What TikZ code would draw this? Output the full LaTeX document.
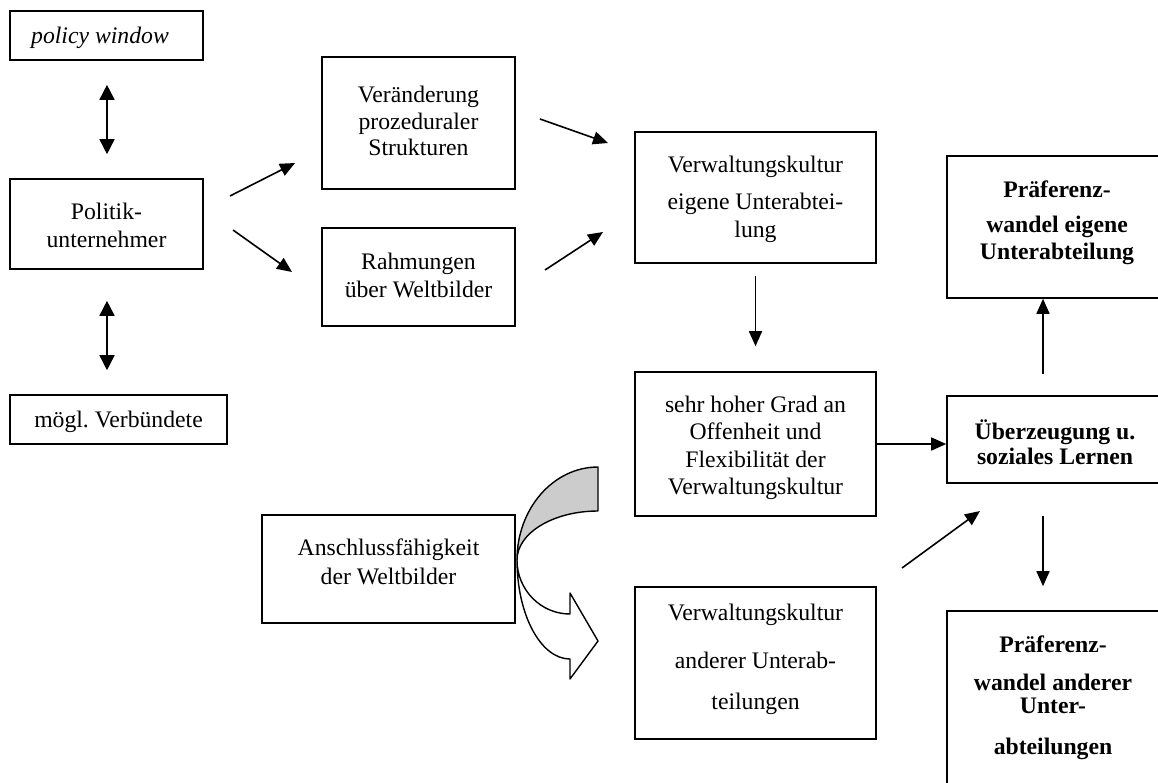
\documentclass[tikz,border=0pt]{standalone}
\usepackage{fontspec}
\setmainfont{Liberation Serif}
\usetikzlibrary{arrows.meta}
\newcommand{\sx}{\strut}
\tikzset{
  box/.style={draw, line width=1.6pt, rectangle, inner sep=0pt},
  txt/.style={inner sep=0pt, align=center, font=\fontsize{23.7}{27}\selectfont},
  btxt/.style={txt, font=\fontsize{23.7}{27}\selectfont\bfseries},
  conn/.style={line width=1.6pt, -{Triangle[length=15pt,width=13pt]}},
  dconn/.style={line width=1.6pt, {Triangle[length=15pt,width=15pt]}-{Triangle[length=15pt,width=15pt]}},
  curvebody/.style={draw, line width=1.4pt, line join=round}
}
\begin{document}
\frenchspacing
\begin{tikzpicture}[x=1pt,y=-1pt]
\useasboundingbox (0,0) rectangle (1158,782);
% boxes
\node[box, minimum width=193pt, minimum height=49pt] (pw) at (106.5,35.5) {};
\node[box, minimum width=193pt, minimum height=90pt] (pol) at (106.5,224) {};
\node[box, minimum width=217pt, minimum height=49pt] (mv) at (118.5,419.5) {};
\node[box, minimum width=193pt, minimum height=132pt] (ver) at (418.5,123) {};
\node[box, minimum width=193pt, minimum height=98pt] (rah) at (418.5,277) {};
\node[box, minimum width=241pt, minimum height=131pt] (vke) at (755.5,197.5) {};
\node[box, minimum width=241pt, minimum height=144pt] (shg) at (755.5,444) {};
\node[box, minimum width=253pt, minimum height=108pt] (ans) at (388.5,569) {};
\node[box, minimum width=241pt, minimum height=152pt] (vka) at (755.5,663) {};
\node[box, minimum width=216pt, minimum height=87pt] (ueb) at (1055,439.5) {};
\node[box, minimum width=216pt, minimum height=142pt] (pe) at (1055,227) {};
\node[box, minimum width=216pt, minimum height=174pt] (pa) at (1055,698) {};
% texts
\node[txt] (tpw) at (100,38) {\sx\itshape policy window};
\node[txt] (tpol) at (106.5,228) {\sx Politik-\\[1pt]\sx unternehmer};
\node[txt] (tmv) at (118.5,422) {\sx mögl.\ Verbündete};
\node[txt] (tver) at (418.5,123.5) {\sx Veränderung\\\sx prozeduraler\\[-1pt]\sx Strukturen};
\node[txt] (trah) at (418.5,278) {\sx Rahmungen\\[1pt]\sx über Weltbilder};
\node[txt] (tvke) at (755.5,199.5) {\sx Verwaltungskultur\\[10pt]\sx eigene Unterabtei-\\[1pt]\sx lung};
\node[txt] (tshg) at (755.5,448) {\sx sehr hoher Grad an\\\sx Offenheit und\\[1pt]\sx Flexibilität der\\\sx Verwaltungskultur};
\node[txt] (tans) at (388.5,564.5) {\sx Anschlussfähigkeit\\[2pt]\sx der Weltbilder};
\node[txt] (tvka) at (755.5,659.5) {\sx Verwaltungskultur\\[21pt]\sx anderer Unterab-\\[14pt]\sx teilungen};
\node[btxt] (tueb) at (1055,446.5) {\sx Überzeugung u.\\[-2pt]\sx soziales Lernen};
\node[btxt] (tpe) at (1057,223) {\sx Präferenz-\\[8pt]\sx wandel eigene\\\sx Unterabteilung};
\node[btxt] (tpa) at (1053,698) {\sx Präferenz-\\[11pt]\sx wandel anderer\\[-4pt]\sx Unter-\\[14pt]\sx abteilungen};
% arrow end points
\coordinate (a1s) at (230,196); \coordinate (a1e) at (295,163);
\coordinate (a2s) at (233,230); \coordinate (a2e) at (292,272);
\coordinate (a3s) at (540,119); \coordinate (a3e) at (608,143);
\coordinate (a4s) at (545,270); \coordinate (a4e) at (603,232);
\coordinate (a5s) at (902,568); \coordinate (a5e) at (980,511);
% connectors
\draw[dconn] ([yshift=-24pt]pw.south -| 107,0) -- ([yshift=24pt]pol.north -| 107,0);
\draw[dconn] ([yshift=-31pt]pol.south -| 107,0) -- ([yshift=24pt]mv.north -| 107,0);
\draw[conn] (a1s) -- (a1e);
\draw[conn] (a2s) -- (a2e);
\draw[conn] (a3s) -- (a3e);
\draw[conn] (a4s) -- (a4e);
\draw[conn] ([yshift=-12pt]vke.south) -- ([yshift=25pt]shg.north);
\draw[conn] (shg.east) -- (shg.east -| ueb.west);
\draw[conn] (a5s) -- (a5e);
\draw[conn] ([yshift=-75pt]pe.south -| 1043,0) -- (pe.south -| 1043,0);
\draw[conn] ([yshift=-32pt]ueb.south -| 1043,0) -- ([yshift=24pt]pa.north -| 1043,0);
% curved arrow
\coordinate (cj) at (517,560);
\filldraw[curvebody, fill=black!20] (cj) .. controls (517,508.6) and (553.3,467) .. (598,467)
  -- (598,511) .. controls (553.3,511) and (517,533) .. (cj) -- cycle;
\filldraw[curvebody, fill=white] (cj) .. controls (517,589.8) and (540.7,614) .. (570,614)
  -- (570,593) -- (598,641) -- (570,679) -- (570,659)
  .. controls (540.7,659) and (517,614.7) .. (cj) -- cycle;
\end{tikzpicture}
\end{document}
